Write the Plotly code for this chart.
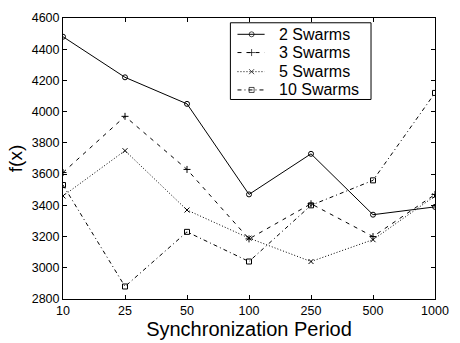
import plotly.graph_objects as go

periods = ["10", "25", "50", "100", "250", "500", "1000"]
s2 = [4480, 4220, 4050, 3470, 3730, 3340, 3390]
s3 = [3610, 3970, 3630, 3185, 3410, 3200, 3470]
s5 = [3460, 3750, 3370, 3190, 3040, 3180, 3460]
s10 = [3530, 2880, 3230, 3040, 3400, 3560, 4120]
names = ["2 Swarms", "3 Swarms", "5 Swarms", "10 Swarms"]

series = [s2, s3, s5, s10]
dashes = ["solid", "4px,5px", "1px,2px", "4px,3px,1px,3px"]
symbols = ["circle-open", "cross-thin-open", "x-thin-open", "square-open"]
msizes = [5, 5, 5, 5]

font = "Liberation Sans, Arial, Helvetica, sans-serif"

fig = go.Figure()
for n, ys, d, sy, ms in zip(names, series, dashes, symbols, msizes):
    fig.add_trace(go.Scatter(
        x=periods, y=ys, name=n, mode="lines+markers", showlegend=False,
        line=dict(color="black", width=1, dash=d),
        marker=dict(symbol=sy, size=ms, color="black", line=dict(color="black", width=1)),
    ))

# Manual MATLAB-style legend (layout positions in axis-fraction units)
leg_x0, leg_x1, leg_y0, leg_y1 = 0.450, 0.828, 0.710, 0.983
row_y = [0.942, 0.877, 0.809, 0.744]
samp_x = [0.469, 0.507, 0.542]
text_x = 0.574

fig.add_shape(type="rect", xref="paper", yref="paper",
              x0=leg_x0, x1=leg_x1, y0=leg_y0, y1=leg_y1,
              line=dict(color="black", width=1), fillcolor="white", layer="below")
for n, d, sy, ms, ry in zip(names, dashes, symbols, msizes, row_y):
    fig.add_trace(go.Scatter(
        x=samp_x, y=[ry] * 3, xaxis="x2", yaxis="y2", mode="lines+markers",
        showlegend=False, hoverinfo="skip",
        line=dict(color="black", width=1, dash=d),
        marker=dict(symbol=sy, size=[0, ms, 0], color="black",
                    line=dict(color="black", width=1)),
    ))
    fig.add_annotation(x=text_x, y=ry, xref="paper", yref="paper", text=n,
                       showarrow=False, xanchor="left", yanchor="middle",
                       font=dict(size=16, family=font, color="black"))

fig.update_layout(
    width=460, height=343,
    margin=dict(l=63, r=24, t=11, b=39),
    paper_bgcolor="white", plot_bgcolor="white",
    font=dict(family=font, color="black", size=12.5),
    showlegend=False,
    xaxis=dict(type="category", range=[0, 6], showline=True, mirror="ticks",
               linecolor="black", linewidth=1, ticks="inside", ticklen=4,
               tickcolor="black", showgrid=False, zeroline=False,
               tickfont=dict(size=12.5),
               title=dict(text="Synchronization Period", font=dict(size=20), standoff=0)),
    yaxis=dict(range=[2800, 4600], dtick=200, showline=True, mirror="ticks",
               linecolor="black", linewidth=1, ticks="inside", ticklen=4,
               tickcolor="black", showgrid=False, zeroline=False,
               tickfont=dict(size=12.5),
               title=dict(text="f(x)", font=dict(size=19), standoff=4)),
    xaxis2=dict(overlaying="x", range=[0, 1], visible=False),
    yaxis2=dict(overlaying="y", range=[0, 1], visible=False),
)
fig.write_html("out.html")
